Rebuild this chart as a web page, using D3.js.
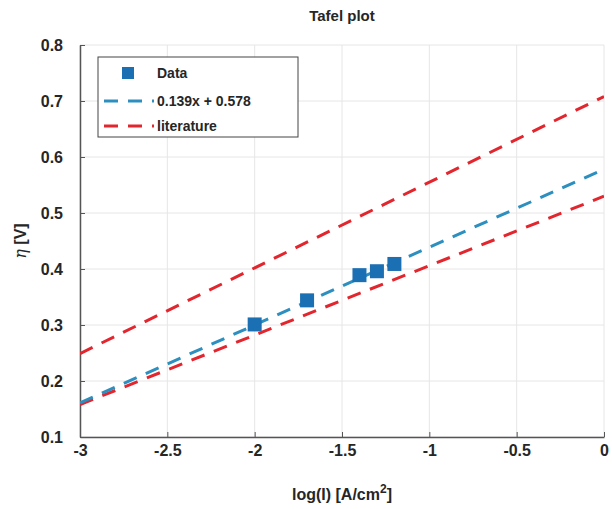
<!DOCTYPE html>
<html>
<head>
<meta charset="utf-8">
<script src="https://cdn.jsdelivr.net/npm/d3@7"></script>
<style>
  body { margin: 0; background: #fff; }
  svg text { font-family: "Liberation Sans", Arial, sans-serif; font-weight: bold; fill: #262626; }
</style>
</head>
<body>
<svg id="chart" width="612" height="509"></svg>
<script>
// Measured Tafel data: log current density vs overpotential
const logI = [-2.0, -1.7, -1.4, -1.3, -1.2];
const eta  = [0.301, 0.344, 0.389, 0.396, 0.409];

// Linear fit and literature reference lines (slope, intercept)
const fitLine = { slope: 0.139, intercept: 0.578 };
const litUpper = { slope: 0.153, intercept: 0.708 };
const litLower = { slope: 0.124, intercept: 0.530 };

const xTicks = [-3, -2.5, -2, -1.5, -1, -0.5, 0];
const yTicks = [0.1, 0.2, 0.3, 0.4, 0.5, 0.6, 0.7, 0.8];

const blue = "#1b6fb3";
const fitColor = "#2c8fbf";
const red = "#e3262e";

const svg = d3.select("#chart");
const margin = { left: 80, right: 8, top: 45, bottom: 72 };
const W = 612, H = 509;

const x = d3.scaleLinear().domain([-3, 0]).range([margin.left, W - margin.right]);
const y = d3.scaleLinear().domain([0.1, 0.8]).range([H - margin.bottom, margin.top]);

// grid
const grid = svg.append("g");
grid.selectAll(".gx").data(xTicks).join("line")
  .attr("x1", d => x(d)).attr("x2", d => x(d))
  .attr("y1", y(0.1)).attr("y2", y(0.8))
  .attr("stroke", "#e6e6e6").attr("stroke-width", 1);
grid.selectAll(".gy").data(yTicks).join("line")
  .attr("x1", x(-3)).attr("x2", x(0))
  .attr("y1", d => y(d)).attr("y2", d => y(d))
  .attr("stroke", "#e6e6e6").attr("stroke-width", 1);

// axes (plain hyphen for negative tick labels)
const hyphen = f => d => f(d).replace("\u2212", "-");
const xAxis = svg.append("g").attr("transform", `translate(0,${y(0.1)})`)
  .call(d3.axisBottom(x).tickValues(xTicks).tickFormat(hyphen(d3.format(""))).tickSizeInner(-5).tickSizeOuter(0).tickPadding(5));
const yAxis = svg.append("g").attr("transform", `translate(${x(-3)},0)`)
  .call(d3.axisLeft(y).tickValues(yTicks).tickFormat(d3.format(".1f")).tickSizeInner(-5).tickSizeOuter(0).tickPadding(17));
[xAxis, yAxis].forEach(a => {
  a.select(".domain").attr("stroke", "#555").attr("stroke-width", 1.5);
  a.selectAll(".tick line").attr("stroke", "#555");
  a.selectAll("text").style("font-size", "16px").attr("fill", "#333");
});
xAxis.selectAll(".tick text").attr("dy", "0.9em");

// lines
const clipId = "plotclip";
svg.append("clipPath").attr("id", clipId).append("rect")
  .attr("x", x(-3)).attr("y", y(0.8)).attr("width", x(0) - x(-3)).attr("height", y(0.1) - y(0.8));
const lineGen = d3.line().x(d => x(d[0])).y(d => y(d[1]));
const seg = l => [[-3, l.slope * -3 + l.intercept], [0, l.intercept]];
const plot = svg.append("g").attr("clip-path", `url(#${clipId})`);
[[litUpper, red], [litLower, red], [fitLine, fitColor]].forEach(([l, c]) => {
  plot.append("path").datum(seg(l)).attr("d", lineGen)
    .attr("fill", "none").attr("stroke", c).attr("stroke-width", 3)
    .attr("stroke-dasharray", "14,10");
});

// data markers
const ms = 14;
plot.selectAll(".pt").data(logI.map((v, i) => [v, eta[i]])).join("rect")
  .attr("x", d => x(d[0]) - ms / 2).attr("y", d => y(d[1]) - ms / 2)
  .attr("width", ms).attr("height", ms).attr("fill", blue);

// title and labels
svg.append("text").attr("x", (x(-3) + x(0)) / 2).attr("y", 21).attr("text-anchor", "middle")
  .style("font-size", "15px").text("Tafel plot");
const xl = svg.append("text").attr("x", (x(-3) + x(0)) / 2).attr("y", 500).attr("text-anchor", "middle")
  .style("font-size", "16px");
xl.append("tspan").text("log(I) [A/cm");
xl.append("tspan").attr("dy", -7).style("font-size", "12px").text("2");
xl.append("tspan").attr("dy", 7).text("]");
const yl = svg.append("text").attr("transform", `translate(26,${(y(0.1) + y(0.8)) / 2}) rotate(-90)`)
  .attr("text-anchor", "middle").style("font-size", "16px");
yl.append("tspan").style("font-style", "italic").style("font-weight", "normal").style("font-family", "DejaVu Serif, serif").text("η");
yl.append("tspan").text(" [V]");

// legend
const lg = svg.append("g");
lg.append("rect").attr("x", 98).attr("y", 57).attr("width", 200).attr("height", 80)
  .attr("fill", "#fff").attr("stroke", "#444").attr("stroke-width", 1);
const rows = [
  { label: "Data", type: "marker", color: blue, yy: 73 },
  { label: "0.139x + 0.578", type: "line", color: fitColor, yy: 101 },
  { label: "literature", type: "line", color: red, yy: 126 }
];
rows.forEach(r => {
  if (r.type === "marker") {
    lg.append("rect").attr("x", 128 - 6).attr("y", r.yy - 6).attr("width", 12).attr("height", 12).attr("fill", r.color);
  } else {
    lg.append("line").attr("x1", 104).attr("x2", 154).attr("y1", r.yy).attr("y2", r.yy)
      .attr("stroke", r.color).attr("stroke-width", 3).attr("stroke-dasharray", "14,10");
  }
  lg.append("text").attr("x", 157).attr("y", r.yy + 5).style("font-size", "14px").text(r.label);
});
</script>
</body>
</html>
